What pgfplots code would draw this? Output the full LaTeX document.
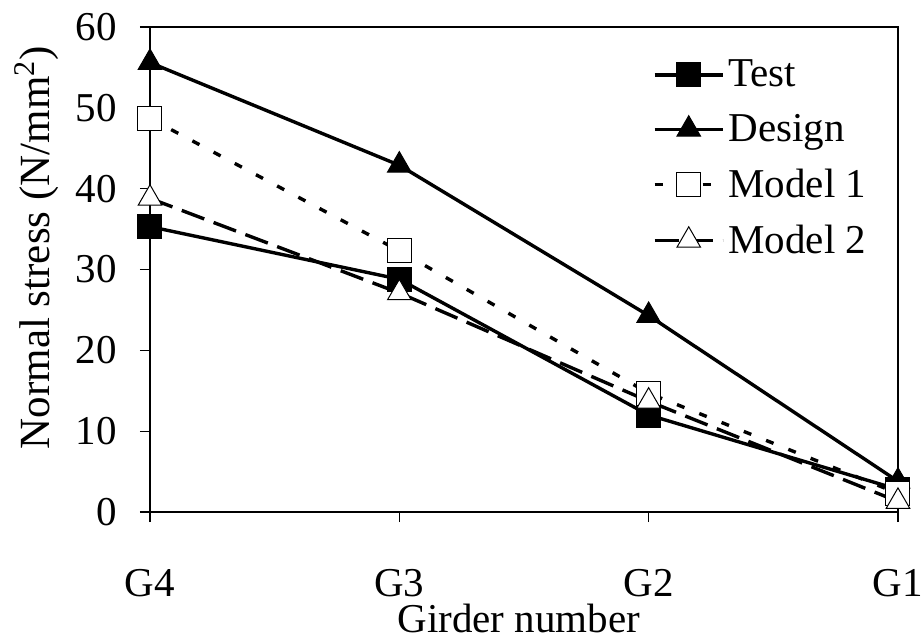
\documentclass[border=0pt]{standalone}
\usepackage{fontspec}
\setmainfont{Liberation Serif}
\usepackage{pgfplots}
\pgfplotsset{compat=1.18}
\begin{document}
\begin{tikzpicture}[font=\fontsize{20.5}{24}\selectfont]
\path[use as bounding box] (-75pt,-63pt) rectangle (386.5pt,256pt);
\begin{axis}[
  width=374pt, height=242.5pt, scale only axis,
  xmin=0, xmax=3, ymin=0, ymax=60,
  xtick={0,1,2,3}, xticklabels={G4,G3,G2,G1},
  ytick={0,10,20,30,40,50,60},
  xtick pos=bottom, ytick pos=left,
  tick align=outside, major tick length=5pt,
  axis line style={line width=0.6pt},
  tick style={line width=0.6pt, black},
  /pgf/number format/assume math mode=true,
  ticklabel style={font=\fontsize{20.5}{24}\selectfont},
  yticklabel style={xshift=-8pt},
  xticklabel style={yshift=-20pt},
  xlabel={Girder number},
  ylabel={Normal stress (N/mm\textsuperscript{2})},
  xlabel style={at={(axis description cs:0.493,0)}, anchor=base, yshift=-60pt},
  ylabel style={at={(axis description cs:-0.134,0.545)}, anchor=base, font=\fontsize{21.5}{25}\selectfont},
  legend cell align=left,
  legend style={draw=none, fill=none, at={(axis description cs:0.672,0.941)}, anchor=north west,
    inner sep=0pt, row sep=8.2pt, font=\fontsize{20.5}{24}\selectfont},
  legend image code/.code={\draw[mark repeat=2,mark phase=2] plot coordinates {(0pt,0pt) (17pt,0pt) (34pt,0pt)};},
]
\addplot[black, line width=1.7pt, mark=square*, mark size=6pt, mark options={solid, line width=0.5pt}]
  coordinates {(0,35.3) (1,28.8) (2,12.0) (3,2.8)};
\addlegendentry{Test}
\addplot[black, line width=1.7pt, mark=triangle*, mark size=6.8pt, mark options={solid, line width=0.5pt}]
  coordinates {(0,55.6) (1,42.9) (2,24.3) (3,3.8)};
\addlegendentry{Design}
\addplot[black, line width=1.7pt, dash pattern=on 4pt off 8pt, dash phase=0pt, mark=square*, mark size=6pt, mark options={solid, fill=white, line width=0.5pt}]
  coordinates {(0,48.7) (1,32.3) (2,14.7) (3,2.3)};
\addlegendentry{Model 1}
\addplot[black, line width=1.7pt, dash pattern=on 12pt off 5pt, mark=triangle*, mark size=6.8pt, mark options={solid, fill=white, line width=0.5pt}]
  coordinates {(0,38.8) (1,27.1) (2,13.7) (3,1.3)};
\addlegendentry{Model 2}
\end{axis}
\end{tikzpicture}
\end{document}
